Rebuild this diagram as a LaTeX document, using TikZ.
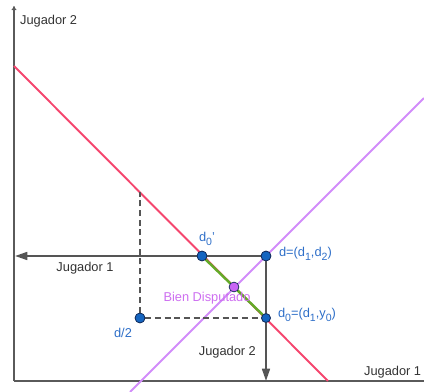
\documentclass[tikz,border=0pt]{standalone}
\usepackage{fontspec}
\setmainfont{Liberation Sans}
\definecolor{axisGray}{RGB}{90, 90, 90}
\definecolor{arrGray}{RGB}{85, 85, 85}
\definecolor{ggRed}{RGB}{245, 70, 110}
\definecolor{ggViolet}{RGB}{210, 140, 250}
\definecolor{ggGreen}{RGB}{100, 170, 40}
\definecolor{ptBlue}{RGB}{21, 101, 192}
\definecolor{ptEdge}{RGB}{20, 45, 90}
\definecolor{lblBlue}{RGB}{45, 110, 200}
\definecolor{lblViolet}{RGB}{205, 110, 240}
\definecolor{ptViolet}{RGB}{200, 100, 245}
\usetikzlibrary{arrows.meta, calc}
\newcommand{\lowsub}[1]{\raisebox{-0.6ex}{\fontsize{6}{6}\selectfont #1}}

\begin{document}
\begin{tikzpicture}[
    x=0.02cm, y=-0.02cm,
    font=\fontsize{7.3}{9}\selectfont,
    axis/.style={draw=axisGray, line width=0.6pt},
    gline/.style={line width=1.1pt},
    arrow/.style={draw=arrGray, line width=1.1pt,
                  -{Triangle[length=7pt, width=4.5pt]}},
    guide/.style={draw=arrGray, line width=1.2pt, dash pattern=on 3.5pt off 2pt},
    pt/.style={circle, fill=ptBlue, draw=ptEdge, line width=0.4pt,
               inner sep=0pt, minimum size=5.6pt},
    lbl/.style={text=lblBlue, inner sep=1pt},
    plabel/.style={text=black!80, inner sep=1pt},
  ]
    \useasboundingbox (0,0) rectangle (424,392);

    % Axes
    \coordinate (O) at (14,381);
    \coordinate (YT) at (14,6);
    \coordinate (XE) at (424,381);
    \draw[axis, -{To[length=2.5pt, width=3pt]}] (O) -- (YT);
    \draw[axis] (O) -- (XE);
    \node[plabel, anchor=west] (J2top) at (18,21) {Jugador 2};
    \node[plabel, anchor=west] (J1bot) at (362,372) {Jugador 1};

    % Red and violet lines
    \coordinate (R1) at (14,66);
    \coordinate (R2) at (328,381);
    \coordinate (V1) at (130,392);
    \coordinate (V2) at (424,98);
    \draw[gline, ggRed] (R1) -- (R2);
    \draw[gline, ggViolet] (V1) -- (V2);

    % Points
    \coordinate (AL) at (15,256);
    \coordinate (AD) at (266,381);
    \coordinate (C) at (140,192);
    \node[pt] (D) at (266,256) {};
    \node[pt] (D0p) at (202,256) {};
    \node[pt, minimum size=5pt] (D0) at (266,318) {};
    \node[pt] (H) at (140,318) {};

    % Arrows from d
    \draw[arrow] (D) -- (AL);
    \draw[arrow] (D) -- (AD);
    \node[plabel] (J1) at (85,268) {Jugador 1};
    \node[plabel, anchor=east] (J2) at (258,352) {Jugador 2};

    % Disputed segment and guides
    \draw[gline, ggGreen, line width=1.4pt] (D0p) -- (D0);
    \draw[guide] (H) -- (D0);
    \draw[guide] (H) -- (C);
    \node[pt, fill=ptViolet] (B) at (234,287) {};

    % Redraw points on top
    \node[pt] at (D) {};
    \node[pt] at (D0p) {};
    \node[pt, minimum size=5pt] at (D0) {};
    \node[pt] at (H) {};

    % Labels
    \node[lbl] (LD0p) at (207,239) {d\lowsub{0}'};
    \node[lbl, anchor=west] (LD) at (277,254) {d=(d\lowsub{1},d\lowsub{2})};
    \node[lbl, anchor=west] (LD0) at (276,315) {d\lowsub{0}=(d\lowsub{1},y\lowsub{0})};
    \node[lbl] (LH) at (123,333) {d/2};
    \node[text=lblViolet, inner sep=1pt] (LB) at (207,298) {Bien Disputado};
  \end{tikzpicture}
\end{document}
